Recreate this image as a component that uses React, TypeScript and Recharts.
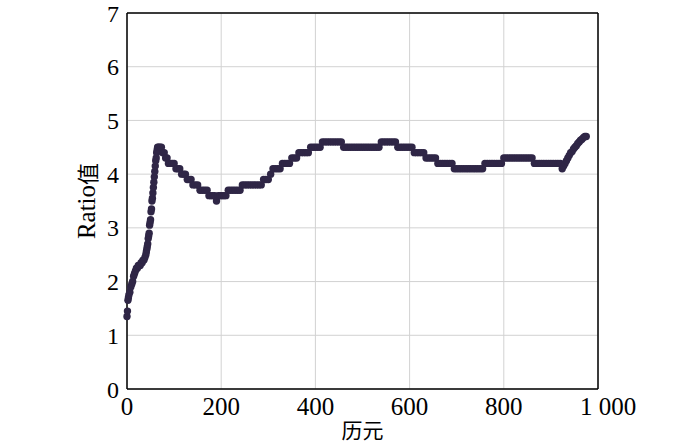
import {
  CartesianGrid,
  ReferenceLine,
  Scatter,
  ScatterChart,
  XAxis,
  YAxis,
} from "recharts";

// epoch numbers of the plotted samples
const epochs = [
  0, 1, 2, 3, 4, 6, 8, 10, 12, 14, 16, 18, 20, 22, 24, 26, 28, 30, 32, 34, 36, 38,
  40, 41, 42, 43, 44, 45, 46, 47, 48, 49, 50, 51, 52, 53, 54, 55, 56, 57, 58, 59,
  60, 61, 62, 63, 64, 65, 67, 70, 73, 76, 79, 82, 85, 88, 92, 96, 100,
  104, 108, 112, 116, 120, 124, 128, 132, 136, 140, 145, 150, 155, 160, 165, 170,
  174, 178, 182, 186, 190, 194, 198, 202, 206, 210,
  215, 220, 225, 230, 235, 240,
  245, 250, 255, 260, 265, 270, 275, 280, 285,
  290, 295, 300, 305,
  310, 315, 320, 325, 330, 335, 340, 345,
  350, 355, 360, 365, 370, 375, 380, 385,
  390, 395, 400, 405, 410,
  415, 420, 425, 430, 435, 440, 445, 450, 455,
  460, 465, 470, 475, 480, 485, 490, 495, 500, 505, 510, 515, 520, 525, 530, 535,
  540, 545, 550, 555, 560, 565, 570,
  575, 580, 585, 590, 595, 600, 605,
  610, 615, 620, 625, 630,
  635, 640, 645, 650, 655,
  660, 665, 670, 675, 680, 685, 690,
  695, 700, 705, 710, 715, 720, 725, 730, 735, 740, 745, 750, 755,
  760, 765, 770, 775, 780, 785, 790, 795,
  800, 805, 810, 815, 820, 825, 830, 835, 840, 845, 850, 855, 860,
  865, 870, 875, 880, 885, 890, 895, 900, 905, 910, 915, 920,
  924, 927, 930, 933, 936, 939, 942, 945, 948, 951, 954, 957, 960, 963, 966, 969, 972, 975,
];

// Ratio value at each epoch above
const ratios = [
  1.35, 1.45, 1.65, 1.7, 1.75, 1.8, 1.9, 1.95, 2.0, 2.1, 2.15, 2.2, 2.25, 2.25, 2.3, 2.3, 2.3, 2.35, 2.35, 2.4, 2.4, 2.45,
  2.5, 2.55, 2.6, 2.65, 2.7, 2.8, 2.85, 2.9, 3.05, 3.1, 3.15, 3.3, 3.35, 3.5, 3.55, 3.65, 3.75, 3.85, 3.95, 4.05,
  4.15, 4.25, 4.3, 4.4, 4.45, 4.5, 4.5, 4.5, 4.5, 4.4, 4.4, 4.3, 4.3, 4.2, 4.2, 4.2, 4.2,
  4.1, 4.1, 4.1, 4.0, 4.0, 4.0, 3.9, 3.9, 3.9, 3.8, 3.8, 3.8, 3.7, 3.7, 3.7, 3.7,
  3.6, 3.6, 3.6, 3.6, 3.5, 3.6, 3.6, 3.6, 3.6, 3.6,
  3.7, 3.7, 3.7, 3.7, 3.7, 3.7,
  3.8, 3.8, 3.8, 3.8, 3.8, 3.8, 3.8, 3.8, 3.8,
  3.9, 3.9, 3.9, 4.0,
  4.1, 4.1, 4.1, 4.1, 4.2, 4.2, 4.2, 4.2,
  4.3, 4.3, 4.3, 4.4, 4.4, 4.4, 4.4, 4.4,
  4.5, 4.5, 4.5, 4.5, 4.5,
  4.6, 4.6, 4.6, 4.6, 4.6, 4.6, 4.6, 4.6, 4.6,
  4.5, 4.5, 4.5, 4.5, 4.5, 4.5, 4.5, 4.5, 4.5, 4.5, 4.5, 4.5, 4.5, 4.5, 4.5, 4.5,
  4.6, 4.6, 4.6, 4.6, 4.6, 4.6, 4.6,
  4.5, 4.5, 4.5, 4.5, 4.5, 4.5, 4.5,
  4.4, 4.4, 4.4, 4.4, 4.4,
  4.3, 4.3, 4.3, 4.3, 4.3,
  4.2, 4.2, 4.2, 4.2, 4.2, 4.2, 4.2,
  4.1, 4.1, 4.1, 4.1, 4.1, 4.1, 4.1, 4.1, 4.1, 4.1, 4.1, 4.1, 4.1,
  4.2, 4.2, 4.2, 4.2, 4.2, 4.2, 4.2, 4.2,
  4.3, 4.3, 4.3, 4.3, 4.3, 4.3, 4.3, 4.3, 4.3, 4.3, 4.3, 4.3, 4.3,
  4.2, 4.2, 4.2, 4.2, 4.2, 4.2, 4.2, 4.2, 4.2, 4.2, 4.2, 4.2,
  4.1, 4.15, 4.2, 4.25, 4.3, 4.35, 4.4, 4.42, 4.47, 4.5, 4.53, 4.57, 4.6, 4.63, 4.65, 4.68, 4.7, 4.7,
];

const xTicks = [0, 200, 400, 600, 800, 1000];
const yTicks = [0, 1, 2, 3, 4, 5, 6, 7];

const data = epochs.map((x, i) => ({ x, y: ratios[i] }));

const SERIF = "Liberation Serif, Times New Roman, serif";
const CJK = "Noto Sans CJK SC, sans-serif";
const DOT = "#2f2646";

function XTick({ x, y, payload }: any) {
  const v = payload.value as number;
  const text = v >= 1000 ? "1 000" : String(v);
  return (
    <text
      x={x + (v >= 1000 ? 10 : 0)}
      y={y}
      dy="0.71em"
      textAnchor="middle"
      fontFamily={SERIF}
      fontSize={25}
      fill="#000"
    >
      {text}
    </text>
  );
}

function YLabel({ viewBox }: any) {
  const cx = viewBox.x + viewBox.width - 41;
  const cy = viewBox.y + viewBox.height / 2;
  return (
    <text
      x={cx}
      y={cy}
      transform={`rotate(-90 ${cx} ${cy})`}
      textAnchor="middle"
      dominantBaseline="central"
      fontFamily={SERIF}
      fontSize={25}
      fill="#000"
    >
      Ratio<tspan fontFamily={CJK} fontSize={22}>值</tspan>
    </text>
  );
}

function XLabel({ viewBox }: any) {
  const cx = viewBox.x + viewBox.width / 2;
  return (
    <text
      x={cx}
      y={viewBox.y + viewBox.height - 16}
      textAnchor="middle"
      dominantBaseline="central"
      fontFamily={CJK}
      fontSize={21}
      fill="#000"
    >
      历元
    </text>
  );
}

export default function App() {
  return (
    <div style={{ position: "absolute", left: 0, top: 0, background: "#fff" }}>
      <ScatterChart
        width={700}
        height={445}
        margin={{ top: 13, right: 102, bottom: 0, left: 0 }}
      >
        <CartesianGrid stroke="#d2d2d2" strokeWidth={1} />
        <XAxis
          type="number"
          dataKey="x"
          domain={[0, 1000]}
          ticks={xTicks}
          height={56}
          tickLine={false}
          axisLine={{ stroke: "#000", strokeWidth: 1.5 }}
          tick={<XTick />}
          label={<XLabel />}
        />
        <YAxis
          type="number"
          dataKey="y"
          domain={[0, 7]}
          ticks={yTicks}
          width={127}
          tickLine={false}
          axisLine={{ stroke: "#000", strokeWidth: 1.5 }}
          tick={{ fontFamily: SERIF, fontSize: 24, fill: "#000" }}
          label={<YLabel />}
        />
        <ReferenceLine y={7} stroke="#000" strokeWidth={1.5} />
        <ReferenceLine x={1000} stroke="#000" strokeWidth={1.5} />
        <Scatter
          data={data}
          isAnimationActive={false}
          shape={(p: any) => <circle cx={p.cx} cy={p.cy} r={3.7} fill={DOT} />}
        />
      </ScatterChart>
    </div>
  );
}
